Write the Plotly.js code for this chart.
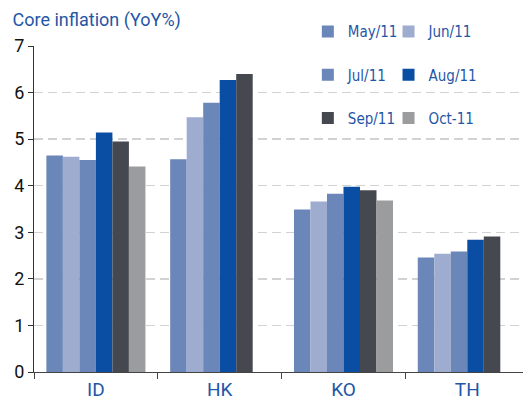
<!DOCTYPE html>
<html>
<head>
<meta charset="utf-8">
<script src="https://cdn.plot.ly/plotly-3.0.1.min.js"></script>
<style>
  html, body { margin: 0; padding: 0; background: #fff; }
  #chart { width: 523px; height: 417px; }
</style>
</head>
<body>
<div id="chart"></div>
<script>
const countries = ['ID', 'HK', 'KO', 'TH'];
const months = ['May/11', 'Jun/11', 'Jul/11', 'Aug/11', 'Sep/11', 'Oct-11'];

const may11 = [4.65, 4.57, 3.49, 2.46];
const jun11 = [4.62, 5.47, 3.66, 2.54];
const jul11 = [4.55, 5.78, 3.83, 2.59];
const aug11 = [5.14, 6.27, 3.98, 2.84];
const sep11 = [4.95, 6.40, 3.90, 2.91];
const oct11 = [4.41, null, 3.68, null];

const seriesValues = [may11, jun11, jul11, aug11, sep11, oct11];
const COLORS = ['#6b86b8', '#9eaccf', '#6b86b8', '#0a4ea3', '#45494f', '#9b9c9e'];

const FONT = 'Roboto, "Liberation Sans", sans-serif';
const LEGEND_FONT = '"DejaVu Sans Condensed", Roboto, sans-serif';
const BLUE = '#1f56a6';

// one legend per entry so the 2x3 grid can be placed freely
const legendIds = months.map((m, i) => (i === 0 ? 'legend' : 'legend' + (i + 1)));

const traces = seriesValues.map((vals, i) => ({
    x: countries,
    y: vals,
    type: 'bar',
    name: months[i],
    legend: legendIds[i],
    marker: { color: COLORS[i], line: { width: 0 } },
    hoverinfo: 'skip'
}));

const colX = [0.56, 0.725];
const rowY = [1.044, 0.911, 0.778];

const layout = {
    width: 523,
    height: 417,
    margin: { t: 46, r: 0, b: 45, l: 34, autoexpand: false },
    paper_bgcolor: '#fff',
    plot_bgcolor: '#fff',
    font: { family: FONT, color: '#111' },
    title: {
        text: 'Core inflation (YoY%)',
        font: { family: FONT, size: 18, color: BLUE },
        x: 0.024, xanchor: 'left',
        y: 0.952, yanchor: 'middle'
    },
    barmode: 'group',
    bargap: 0.2,
    bargroupgap: 0,
    xaxis: {
        type: 'category',
        range: [-0.5, 3.45],
        showline: true,
        linecolor: '#444',
        linewidth: 1,
        ticks: 'outside',
        tickson: 'boundaries',
        ticklen: 6,
        tickcolor: '#444',
        tickfont: { family: FONT, size: 19, color: BLUE },
        showgrid: false,
        fixedrange: true
    },
    yaxis: {
        range: [0, 7],
        tickvals: [0, 1, 2, 3, 4, 5, 6, 7],
        showline: true,
        linecolor: '#333',
        linewidth: 1,
        ticks: 'outside',
        ticklen: 5,
        tickcolor: '#333',
        tickfont: { family: FONT, size: 18, color: '#111' },
        showgrid: true,
        gridcolor: '#d2d2d2',
        gridwidth: 1.5,
        griddash: '9px,5px',
        zeroline: false,
        fixedrange: true
    },
    shapes: [{
        type: 'rect',
        xref: 'paper', yref: 'paper',
        x0: 0.585, x1: 0.88, y0: 0.696, y1: 1.1,
        fillcolor: '#fff',
        line: { width: 0 },
        layer: 'between'
    }],
    showlegend: true
};

legendIds.forEach((id, i) => {
    layout[id] = {
        xanchor: 'left',
        yanchor: 'middle',
        x: colX[i % 2],
        y: rowY[Math.floor(i / 2)],
        bgcolor: 'rgba(0,0,0,0)',
        itemwidth: 30,
        font: { family: LEGEND_FONT, size: 15, color: BLUE }
    };
});

Plotly.newPlot('chart', traces, layout, { displayModeBar: false, staticPlot: true });
</script>
</body>
</html>
